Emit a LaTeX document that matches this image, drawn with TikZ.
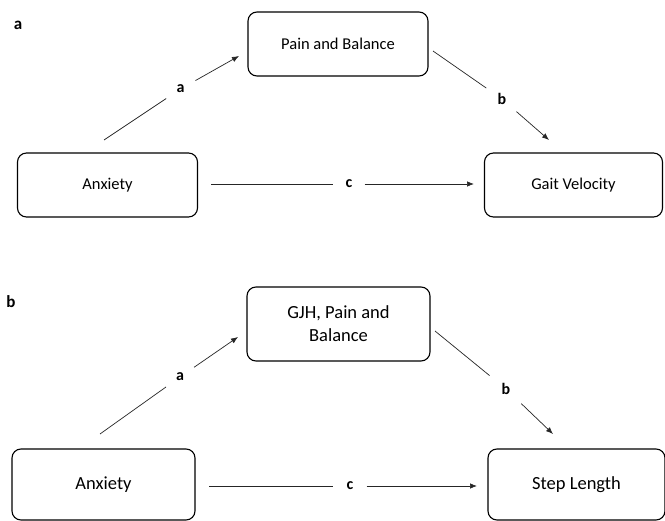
\documentclass[tikz,border=0pt]{standalone}
\usepackage{fontspec}
\setmainfont{Carlito}
\usetikzlibrary{arrows.meta}
\begin{document}
\begin{tikzpicture}[x=1pt,y=-1pt,
  box/.style={draw=black, line width=1.1pt, rounded corners=9pt, align=center, inner sep=0pt},
  boxa/.style={box, font=\fontsize{16.5}{20}\selectfont},
  boxb/.style={box, font=\fontsize{18.5}{23}\selectfont},
  lab/.style={circle, inner sep=0pt, font=\bfseries\fontsize{16}{18}\selectfont},
  conn/.style={line width=0.7pt, draw=black!85},
  arr/.style={conn, -{Latex[length=7pt,width=5.5pt]}},
  panel/.style={font=\bfseries\fontsize{17}{20}\selectfont, inner sep=0pt}
]
\useasboundingbox[fill=white] (0,0) rectangle (665,521);

% ---------- panel a ----------
\node[panel] (pa) at (18,25) {a};
\node[boxa, minimum width=180pt, minimum height=64pt] (mA) at (338,44) {Pain and Balance};
\node[boxa, minimum width=180pt, minimum height=64pt] (xA) at (107.5,185) {Anxiety};
\node[boxa, minimum width=178pt, minimum height=64pt] (yA) at (573.5,185) {Gait Velocity};

\coordinate (aAs) at (104,140);
\node[lab, minimum size=34pt] (aAl) at (180.5,89) {a};
\coordinate (aAe) at (239,56);
\draw[conn] (aAs) -- (aAl);
\draw[arr] (aAl) -- (aAe);

\coordinate (bAs) at (433,51);
\node[lab, minimum size=38pt] (bAl) at (502,99) {b};
\coordinate (bAe) at (549,140);
\draw[conn] (bAs) -- (bAl);
\draw[arr] (bAl) -- (bAe);

\coordinate (cAs) at (211,184);
\node[lab, minimum size=31pt] (cAl) at (349,184) {c};
\coordinate (cAe) at (474,184);
\draw[conn] (cAs) -- (cAl);
\draw[arr] (cAl) -- (cAe);

% ---------- panel b ----------
\node[panel] (pb) at (11,302) {b};
\node[boxb, minimum width=183pt, minimum height=74pt] (mB) at (338.5,324) {GJH, Pain and\\Balance};
\node[boxb, minimum width=183pt, minimum height=71pt] (xB) at (103.5,484.5) {Anxiety};
\node[boxb, minimum width=177pt, minimum height=71pt] (yB) at (576.5,484.5) {Step Length};

\coordinate (aBs) at (100,434);
\node[lab, minimum size=34pt] (aBl) at (180,377) {a};
\coordinate (aBe) at (238,337);
\draw[conn] (aBs) -- (aBl);
\draw[arr] (aBl) -- (aBe);

\coordinate (bBs) at (435,331);
\node[lab, minimum size=42pt] (bBl) at (506,389) {b};
\coordinate (bBe) at (553,434);
\draw[conn] (bBs) -- (bBl);
\draw[arr] (bBl) -- (bBe);

\coordinate (cBs) at (209,486);
\node[lab, minimum size=33pt] (cBl) at (350,486) {c};
\coordinate (cBe) at (477,486);
\draw[conn] (cBs) -- (cBl);
\draw[arr] (cBl) -- (cBe);
\end{tikzpicture}
\end{document}
